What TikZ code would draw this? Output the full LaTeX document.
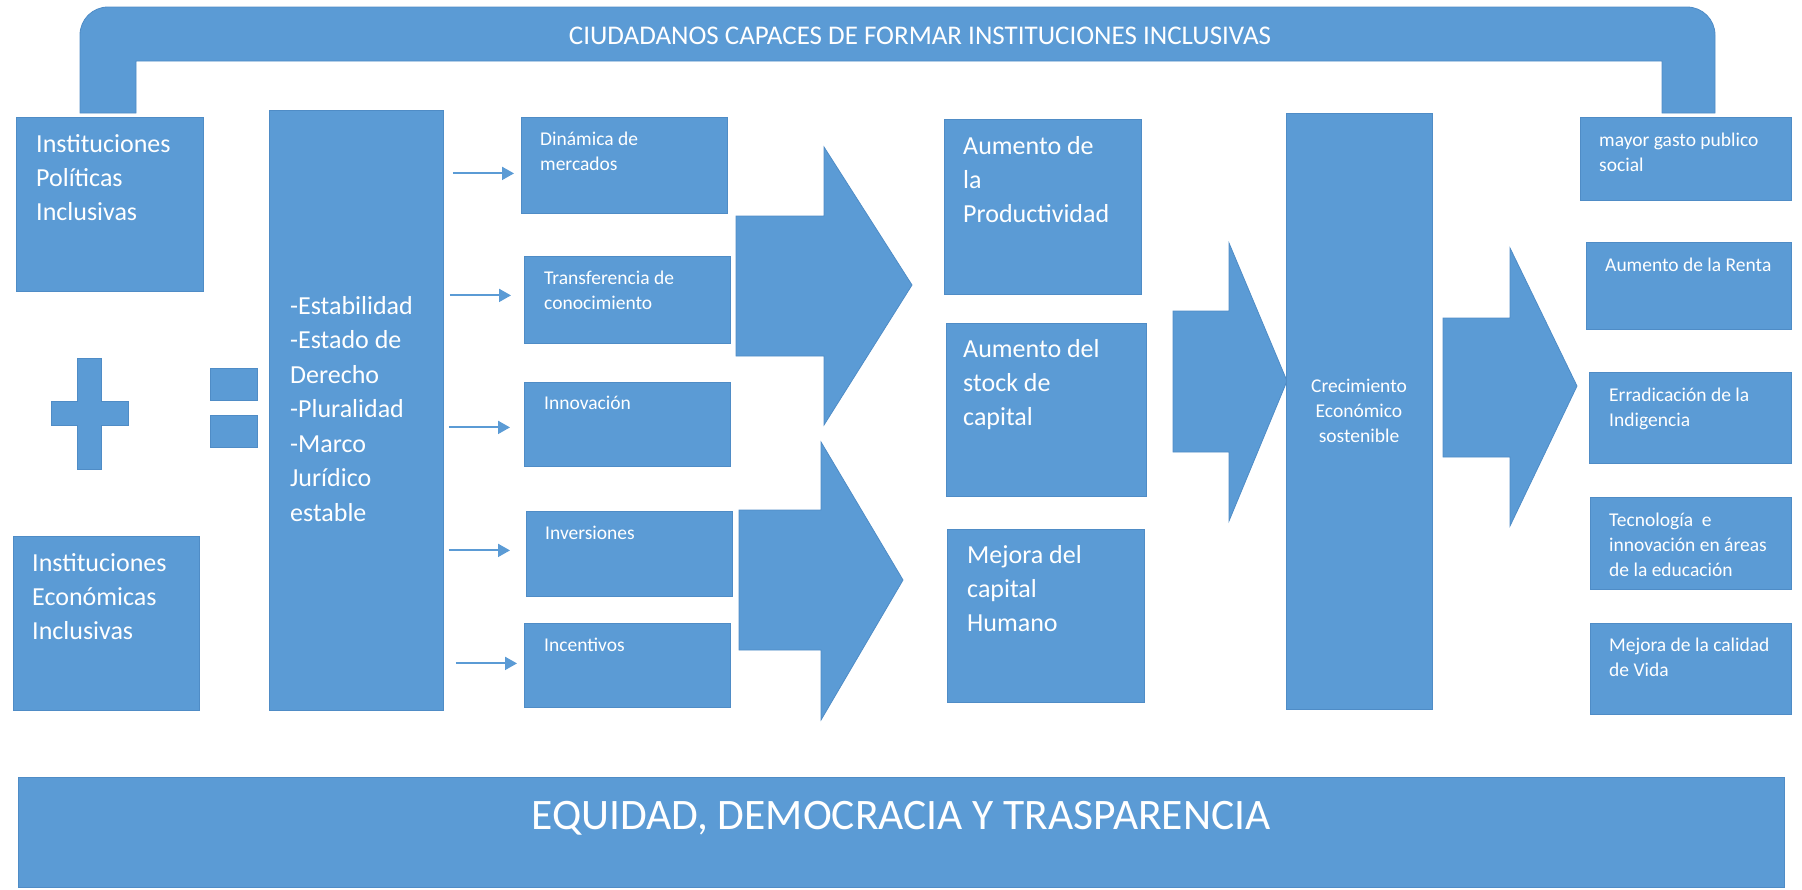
\documentclass[tikz,border=0pt]{standalone}
\usepackage{fontspec}
\setmainfont{Carlito}
\usetikzlibrary{arrows.meta,calc}
\definecolor{blu}{HTML}{5B9BD5}
\definecolor{blud}{HTML}{4F8CC6}
\newcommand\bx[5]{\node[box,anchor=north west,inner sep=0pt,minimum width={#4-#2},minimum height={#5-#3}] (#1) at (#2,#3) {};}
\begin{document}
\begin{tikzpicture}[x=1pt,y=-1pt,
  box/.style={fill=blu,draw=blud,line width=0.8pt},
  bigtxt/.style={text=white,font=\fontsize{26}{34}\selectfont,align=left,anchor=base west,inner sep=0pt},
  smtxt/.style={text=white,font=\fontsize{19.5}{25}\selectfont,align=left,anchor=base west,inner sep=0pt},
  sarr/.style={draw=blu,line width=2pt,-{Triangle[length=12pt,width=13pt]}},
  blockarrow/.style={fill=blu,draw=blud,line width=0.8pt}
]
\useasboundingbox (0,0) rectangle (1802,889);

% top bracket
\filldraw[box] (80,113) -- (80,35) arc[start angle=180,end angle=270,radius=28] -- (1687,7)
  arc[start angle=270,end angle=360,radius=28] -- (1715,113) -- (1662,113) -- (1662,61)
  -- (136,61) -- (136,113) -- cycle;
\node[text=white,font=\fontsize{27}{30}\selectfont,inner sep=0pt,anchor=base] (title) at (920,44)
  {CIUDADANOS CAPACES DE FORMAR INSTITUCIONES INCLUSIVAS};

% left boxes (anchor = baseline of last line)
\bx{pol}{16}{117}{203}{291}
\node[bigtxt] (poltxt) at (36,220) {Instituciones\\Políticas\\Inclusivas};
\bx{eco}{13}{536}{199}{710}
\node[bigtxt] (ecotxt) at (32,639) {Instituciones\\Económicas\\Inclusivas};

% plus and equals
\filldraw[box] (77,358) -- (101,358) -- (101,401) -- (128,401) -- (128,425) -- (101,425)
  -- (101,469) -- (77,469) -- (77,425) -- (51,425) -- (51,401) -- (77,401) -- cycle;
\bx{equ}{210}{368}{257}{400}
\bx{eqd}{210}{415}{257}{447}

% central box
\bx{cond}{269}{110}{443}{710}
\node[bigtxt,font=\fontsize{26}{34.5}\selectfont] (condtxt) at (290,521)
  {-Estabilidad\\-Estado de\\Derecho\\-Pluralidad\\-Marco\\Jurídico\\estable};

% small boxes
\bx{d1}{521}{117}{727}{213}
\node[smtxt] (d1t) at (540,170) {Dinámica de\\mercados};
\bx{d2}{524}{256}{730}{343}
\node[smtxt] (d2t) at (544,309) {Transferencia de\\conocimiento};
\bx{d3}{524}{382}{730}{466}
\node[smtxt] (d3t) at (544,409) {Innovación};
\bx{d4}{526}{511}{732}{596}
\node[smtxt] (d4t) at (545,539) {Inversiones};
\bx{d5}{524}{623}{730}{707}
\node[smtxt] (d5t) at (544,651) {Incentivos};

% small arrows
\draw[sarr] ($(cond.east|-d1.west)+(9,8)$) -- ($(d1.west)+(-7,8)$);
\draw[sarr] ($(cond.east|-d2.west)+(6,-4.5)$) -- ($(d2.west)+(-13,-4.5)$);
\draw[sarr] ($(cond.east|-d3.west)+(5,3)$) -- ($(d3.west)+(-14,3)$);
\draw[sarr] ($(cond.east|-d4.west)+(5,-3.5)$) -- ($(d4.west)+(-16,-3.5)$);
\draw[sarr] ($(cond.east|-d5.west)+(12,-2)$) -- ($(d5.west)+(-7,-2)$);

% big block arrows
\filldraw[blockarrow] (736,216) -- (824,216) -- (824,147) -- (912,285) -- (824,425) -- (824,356) -- (736,356) -- cycle;
\filldraw[blockarrow] (739,510) -- (821,510) -- (821,442) -- (903,580) -- (821,720) -- (821,650) -- (739,650) -- cycle;
\filldraw[blockarrow] (1173,311) -- (1229,311) -- (1229,243) -- (1287,381) -- (1229,521) -- (1229,452) -- (1173,452) -- cycle;
\filldraw[blockarrow] (1443,318) -- (1510,318) -- (1510,248) -- (1577,386) -- (1510,526) -- (1510,457) -- (1443,457) -- cycle;

% middle boxes
\bx{m1}{944}{119}{1141}{294}
\node[bigtxt] (m1t) at (963,222) {Aumento de\\la\\Productividad};
\bx{m2}{946}{323}{1146}{496}
\node[bigtxt] (m2t) at (963,425) {Aumento del\\stock de\\capital};
\bx{m3}{947}{529}{1144}{702}
\node[bigtxt] (m3t) at (967,631) {Mejora del\\capital\\Humano};

% growth box
\bx{crec}{1286}{113}{1432}{709}
\node[text=white,font=\fontsize{19.5}{25}\selectfont,align=center,inner sep=0pt] (crect) at (1359,411)
  {Crecimiento\\Económico\\sostenible};

% right boxes
\bx{r1}{1580}{117}{1791}{200}
\node[smtxt] (r1t) at (1599,171) {mayor gasto publico\\social};
\bx{r2}{1586}{242}{1791}{329}
\node[smtxt] (r2t) at (1605,271) {Aumento de la Renta};
\bx{r3}{1589}{372}{1791}{463}
\node[smtxt] (r3t) at (1609,426) {Erradicación de la\\Indigencia};
\bx{r4}{1590}{497}{1791}{589}
\node[smtxt] (r4t) at (1609,576) {Tecnología\ \ e\\innovación en áreas\\de la educación};
\bx{r5}{1590}{623}{1791}{714}
\node[smtxt] (r5t) at (1609,676) {Mejora de la calidad\\de Vida};

% bottom banner
\bx{banner}{18}{777}{1784}{887}
\node[text=white,font=\fontsize{43.5}{48}\selectfont,inner sep=0pt,anchor=base] (bannert) at (901,829)
  {EQUIDAD, DEMOCRACIA Y TRASPARENCIA};
\end{tikzpicture}
\end{document}
